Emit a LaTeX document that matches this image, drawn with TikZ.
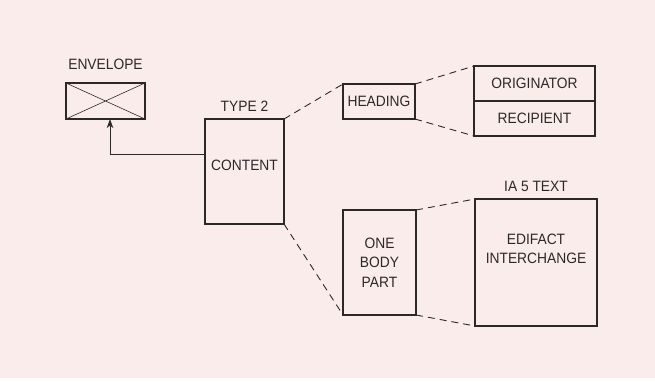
\documentclass[tikz,border=0pt]{standalone}
\usepackage{fontspec}
\setmainfont[FakeStretch=0.92]{Liberation Sans}
\usetikzlibrary{positioning}
\usetikzlibrary{arrows.meta}

\begin{document}
\begin{tikzpicture}[x=1pt,y=-1pt,>={Stealth[length=9pt,width=6.5pt,inset=2.5pt]},
	box/.style={draw=ink,line width=1.6pt,inner sep=0pt,outer sep=0pt,align=center,
		text=ink,font=\fontsize{15}{19.5}\selectfont},
	zoom line/.style={draw=ink,line width=0.9pt,dash pattern=on 7pt off 5pt},
	caption/.style={inner sep=0pt,align=center,text=ink,font=\fontsize{15}{18.5}\selectfont}]
	
	\definecolor{paper}{RGB}{251,236,236}
	\definecolor{ink}{RGB}{45,40,40}
	
	\fill[paper] (0,0) rectangle (655,378);
	\fill[white] (0,378) rectangle (655,381);
	\useasboundingbox (0,0) rectangle (655,381);
	
	\node[box,minimum width=79pt,minimum height=36pt] (env) at (105.5,101) {};
	\node[box,minimum width=79pt,minimum height=105pt] (content) at (244.5,171.5) {};
	\node[box,minimum width=72pt,minimum height=35pt] (heading) at (379,101.5) {HEADING};
	\node[box,minimum width=121pt,minimum height=35pt] (orig) at (534.5,83.5) {ORIGINATOR};
	\node[box,minimum width=121pt,minimum height=35pt] (recip) [below=0pt of orig] {RECIPIENT};
	\node[box,minimum width=73pt,minimum height=105pt] (body) at (379.5,262.5) {ONE\\BODY\\PART};
	\node[box,minimum width=122pt,minimum height=127pt] (ia5) at (536,262.5) {};
	
	\node[caption] (envlabel) [above=13pt of env] {ENVELOPE};
	\node[caption] (typelabel) [above=7pt of content] {TYPE 2};
	\node[caption] (ia5label) [above=7pt of ia5] {IA 5 TEXT};
	\node[caption] (contenttext) at ([yshift=6.5pt]content.center) {CONTENT};
	\node[caption] (ia5text) at ([yshift=13.5pt]ia5.center) {EDIFACT\\INTERCHANGE};
	
	\draw[ink,line width=0.6pt] (env.north west) -- (env.south east)
		(env.north east) -- (env.south west);
	
	\coordinate (bend) at (110,154);
	\draw[->,ink,line width=0.9pt] (content.west |- bend) -- (bend) -- (env.south -| bend);
	
	\path[zoom line]
	(content.north east) edge (heading.north west)
	(heading.north east) edge (orig.north west)
	(heading.south east) edge (recip.south west)
	(content.south east) edge (body.south west)
	(body.north east) edge (ia5.north west)
	(body.south east) edge (ia5.south west);
\end{tikzpicture}
\end{document}
